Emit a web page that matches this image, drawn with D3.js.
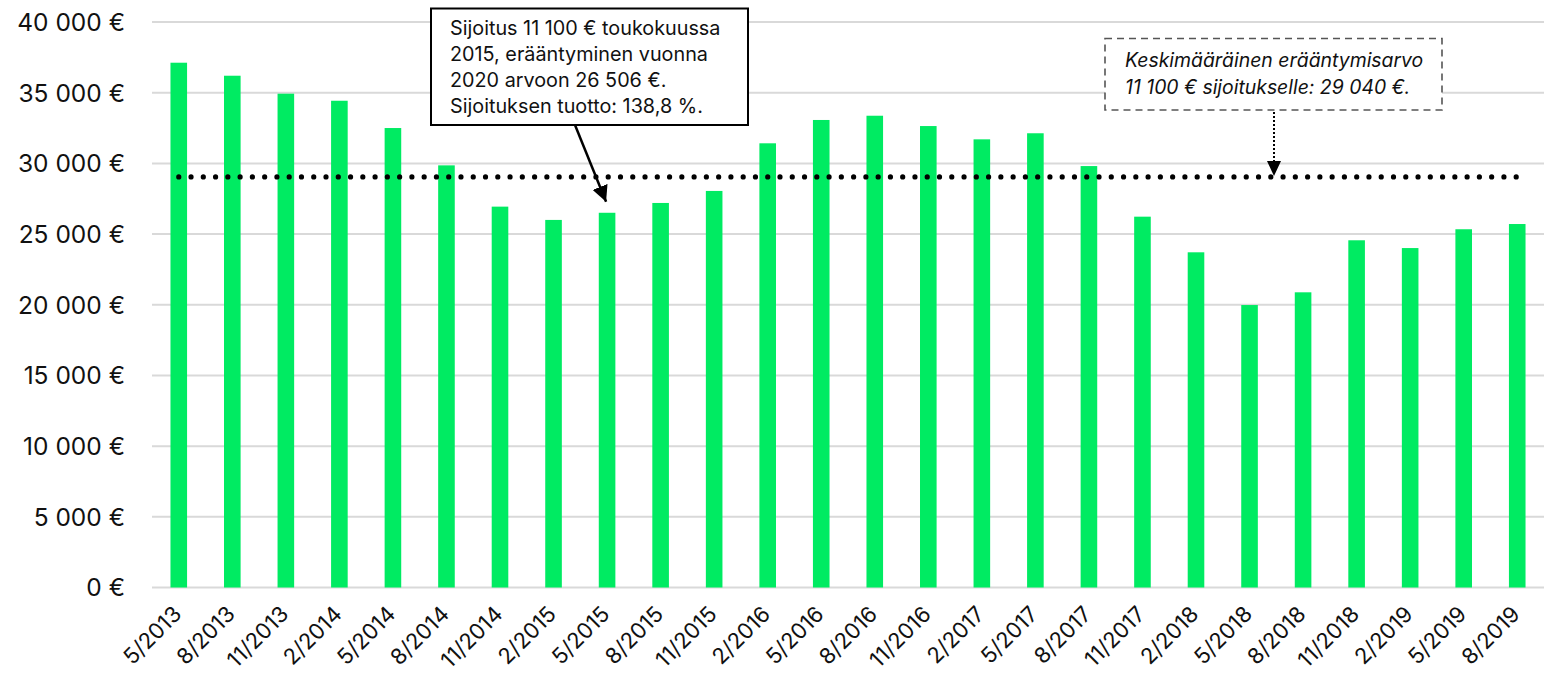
<!DOCTYPE html>
<html><head><meta charset="utf-8">
<script src="https://cdn.jsdelivr.net/npm/d3@7"></script>
<style>body{margin:0;background:#fff}svg{display:block}text{font-family:Inter,"Open Sans",sans-serif}</style>
</head><body><svg id="c" width="1549" height="680"></svg>
<script>
const categories = ["5/2013","8/2013","11/2013","2/2014","5/2014","8/2014","11/2014","2/2015","5/2015","8/2015","11/2015","2/2016","5/2016","8/2016","11/2016","2/2017","5/2017","8/2017","11/2017","2/2018","5/2018","8/2018","11/2018","2/2019","5/2019","8/2019"];
const values = [37120,36200,34930,34430,32500,29860,26940,26000,26506,27200,28050,31420,33070,33370,32640,31700,32130,29810,26230,23710,19980,20880,24560,24010,25340,25710];
const yTicks = [0,5000,10000,15000,20000,25000,30000,35000,40000];
const average = 29040;
const highlight = "5/2015";
const note1 = ["Sijoitus 11 100 € toukokuussa","2015, erääntyminen vuonna","2020 arvoon 26 506 €.","Sijoituksen tuotto: 138,8 %."];
const note2 = ["Keskimääräinen erääntymisarvo","11 100 € sijoitukselle: 29 040 €."];

const svg = d3.select("#c");
const L = 152, R = 1544, T = 22, B = 587.5;
const x = d3.scaleBand().domain(categories).range([L, R]).padding(0);
const y = d3.scaleLinear().domain([0, 40000]).range([B, T]);
const fmt = v => d3.format(",")(v).replace(/,/g, "\u00a0") + " €";

// grid
svg.append("g").selectAll("line").data(yTicks).join("line")
  .attr("x1", L).attr("x2", R).attr("y1", d => y(d)).attr("y2", d => y(d))
  .attr("stroke", "#d9d9d9").attr("stroke-width", 2);
// y labels
svg.append("g").selectAll("text").data(yTicks).join("text")
  .attr("x", 125).attr("y", d => y(d)).attr("dy", "0.36em")
  .attr("text-anchor", "end").attr("font-size", 24.5).attr("fill", "#111")
  .text(fmt);

// bars
const bw = x.bandwidth() * 0.31;
svg.append("g").selectAll("rect").data(values).join("rect")
  .attr("x", (d, i) => x(categories[i]) + x.bandwidth() / 2 - bw / 2)
  .attr("width", bw)
  .attr("y", d => y(d)).attr("height", d => B - y(d))
  .attr("fill", "#00eb62");

// x labels
svg.append("g").selectAll("text").data(categories).join("text")
  .attr("transform", d => `translate(${x(d) + x.bandwidth() / 2 + 4},${B + 28}) rotate(-45)`)
  .attr("text-anchor", "end").attr("font-size", 22).attr("fill", "#111")
  .text(d => d);

// average dotted line
const cx0 = x(categories[0]) + x.bandwidth() / 2, cx1 = x(categories[categories.length - 1]) + x.bandwidth() / 2;
svg.append("line").attr("x1", cx0).attr("x2", cx1 + 2).attr("y1", y(average)).attr("y2", y(average))
  .attr("stroke", "#000").attr("stroke-width", 5.2).attr("stroke-linecap", "round")
  .attr("stroke-dasharray", "0 12.27");

// defs arrow
const defs = svg.append("defs");
defs.append("marker").attr("id", "ah").attr("viewBox", "0 0 10 10").attr("refX", 10).attr("refY", 5)
  .attr("markerWidth", 16).attr("markerHeight", 16).attr("markerUnits", "userSpaceOnUse").attr("orient", "auto")
  .append("path").attr("d", "M0,0 L10,5 L0,10 Z").attr("fill", "#000");

// note 1
const hx = x(highlight) + x.bandwidth() / 2;
svg.append("line").attr("x1", 575).attr("y1", 125).attr("x2", hx - 1).attr("y2", y(26506) - 11)
  .attr("stroke", "#000").attr("stroke-width", 2.5).attr("marker-end", "url(#ah)");
svg.append("rect").attr("x", 431).attr("y", 8.5).attr("width", 317).attr("height", 116.5)
  .attr("fill", "#fff").attr("stroke", "#000").attr("stroke-width", 2);
svg.append("g").selectAll("text").data(note1).join("text")
  .attr("x", 450).attr("y", (d, i) => 35 + i * 26).attr("font-size", 19.8).attr("fill", "#111").text(d => d);

// note 2
svg.append("rect").attr("x", 1105).attr("y", 38.5).attr("width", 337).attr("height", 71.5)
  .attr("fill", "#fff").attr("stroke", "#555").attr("stroke-width", 1.6).attr("stroke-dasharray", "7 5");
svg.append("g").selectAll("text").data(note2).join("text")
  .attr("x", 1125).attr("y", (d, i) => 67 + i * 26.5).attr("font-size", 19.4).attr("font-style", "italic").attr("fill", "#111").text(d => d);
svg.append("line").attr("x1", 1274).attr("x2", 1274).attr("y1", 112).attr("y2", y(average) - 14)
  .attr("stroke", "#000").attr("stroke-width", 2).attr("stroke-dasharray", "2 2");
svg.append("path").attr("d", `M1267,${y(average) - 16} L1281,${y(average) - 16} L1274,${y(average) - 1} Z`).attr("fill", "#000");
</script></body></html>
